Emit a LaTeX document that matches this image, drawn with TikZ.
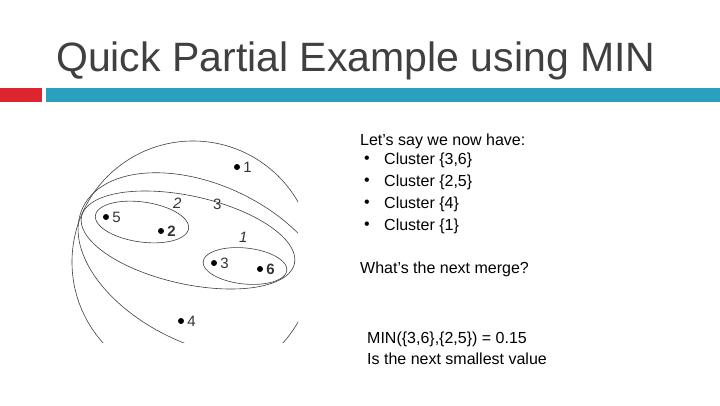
\documentclass[tikz,border=0pt]{standalone}
\usepackage{fontspec}
\setmainfont{Liberation Sans}
\definecolor{teal1}{HTML}{2AA0BE}
\definecolor{red1}{HTML}{DD2530}
\newcommand\myellipse[5]{% cx cy rx ry angle (screen, down-right positive)
  \draw[ring] plot[domain=0:360,samples=120,smooth cycle] ({#1+#3*cos(\x)*cos(#5)-#4*sin(\x)*sin(#5)},{#2+#3*cos(\x)*sin(#5)+#4*sin(\x)*cos(#5)});}
\begin{document}
\begin{tikzpicture}[x=1pt,y=-1pt,
  txt/.style={anchor=west,inner sep=0pt,font=\fontsize{16}{18}\selectfont,text=black},
  dot/.style={circle,fill=black,inner sep=0pt,minimum size=6pt},
  lab/.style={anchor=west,inner sep=0pt,xshift=3pt,font=\fontsize{15}{16}\selectfont,text=black!80},
  ring/.style={draw=black!75,line width=0.6pt}]
\useasboundingbox (0,0) rectangle (720,405);
\fill[white] (0,0) rectangle (720,405);
\node[anchor=west,inner sep=0pt,text=black!75,font=\fontsize{41}{44}\selectfont] (title) at (56,61) {Quick Partial Example using MIN};
\fill[red1] (0,88) rectangle (42,102);
\fill[teal1] (46,88) rectangle (720,102);
\begin{scope}
\clip (43,130) rectangle (298,342);
\draw[ring] (193,262) circle (121);
\myellipse{205}{265}{135}{80}{25}
\myellipse{188}{240}{109}{44}{12.5}
\myellipse{142}{222}{47}{20}{8}
\myellipse{245}{266}{42}{18}{6}
\end{scope}
\node[dot] (d1) at (237,167) {}; \node[lab] at (d1.east) {1};
\node[dot] (d5) at (106,217) {}; \node[lab] at (d5.east) {5};
\node[dot] (d2) at (161,231) {}; \node[lab,font=\bfseries\fontsize{15}{16}\selectfont] at (d2.east) {2};
\node[dot] (d3) at (214,263) {}; \node[lab] at (d3.east) {3};
\node[dot] (d6) at (260,269) {}; \node[lab,font=\bfseries\fontsize{15}{16}\selectfont] at (d6.east) {6};
\node[dot] (d4) at (181,321) {}; \node[lab] at (d4.east) {4};
\node[lab,font=\itshape\fontsize{15}{16}\selectfont] (l2) at (170,203) {2};
\node[lab] (l3) at (210,204) {3};
\node[lab,font=\itshape\fontsize{15}{16}\selectfont] (l1) at (236,237) {1};
\node[txt] (t0) at (360,141) {Let’s say we now have:};
\foreach \y/\s [count=\i] in {160/{Cluster \{3,6\}},182/{Cluster \{2,5\}},204/{Cluster \{4\}},226/{Cluster \{1\}}}{
  \node[txt] (b\i) at (364,\y) {•};
  \node[txt] (c\i) at (384,\y) {\s};
}
\node[txt] (t1) at (360,269) {What’s the next merge?};
\node[txt] (t2) at (367,339) {MIN(\{3,6\},\{2,5\}) = 0.15};
\node[txt] (t3) at (367,359) {Is the next smallest value};
\end{tikzpicture}
\end{document}
